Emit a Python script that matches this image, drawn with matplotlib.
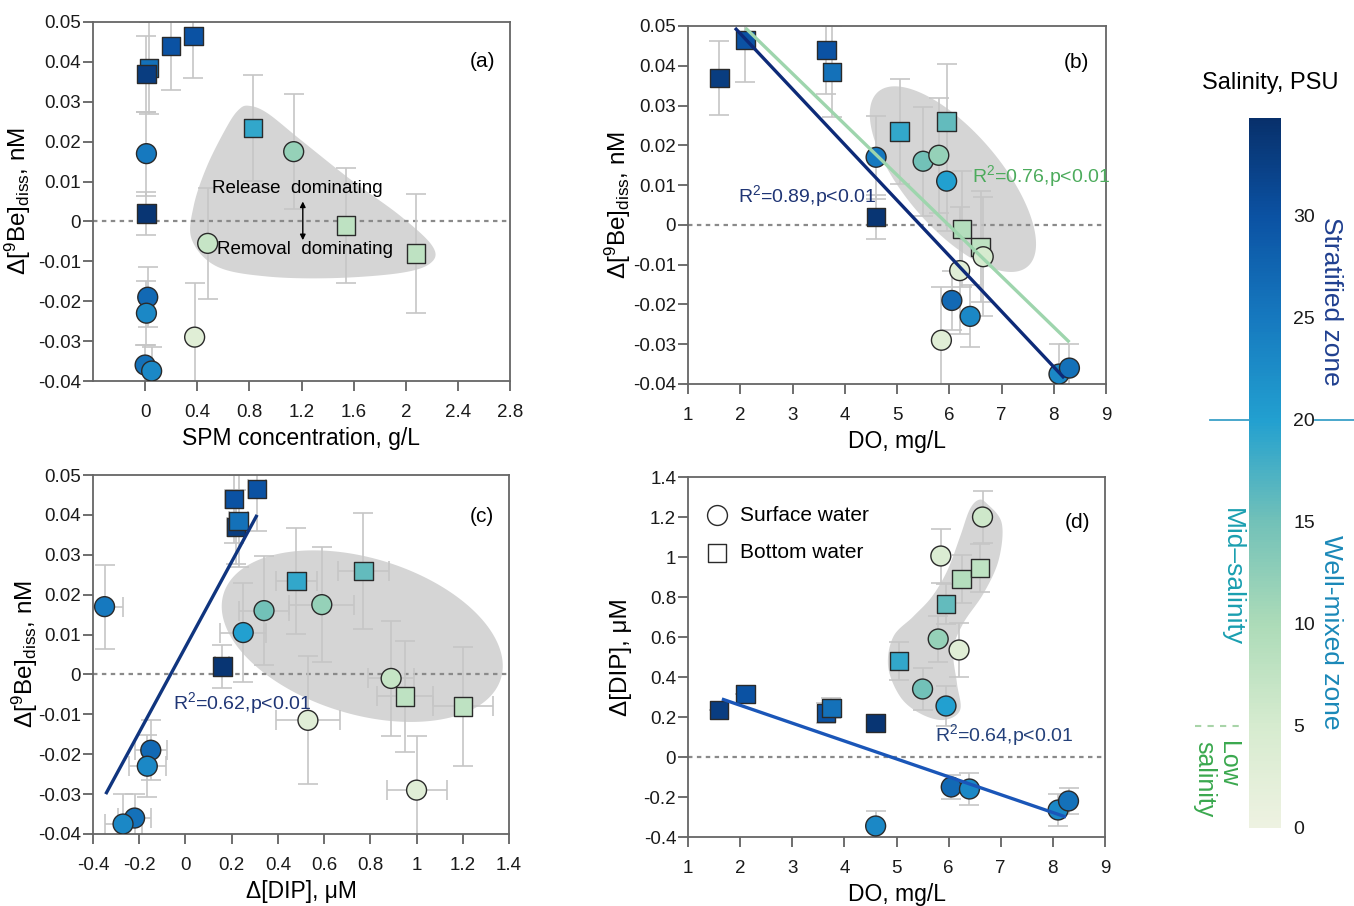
import numpy as np
import matplotlib
matplotlib.use("Agg")
import matplotlib.pyplot as plt
from matplotlib.colors import LinearSegmentedColormap, Normalize
from matplotlib.patches import Polygon
from matplotlib.cm import ScalarMappable
import matplotlib.transforms as mtransforms

plt.rcParams['font.family'] = ['Liberation Sans', 'DejaVu Sans']
plt.rcParams['mathtext.fontset'] = 'custom'
plt.rcParams['mathtext.rm'] = 'Liberation Sans'
plt.rcParams['mathtext.it'] = 'Liberation Sans:italic'
plt.rcParams['axes.unicode_minus'] = False

# ---------------- data ----------------
# panel (a): SPM vs delta Be
a_bot_spm = [0.03, 0.01, 0.20, 0.37, 0.01, 0.83, 1.54, 2.08]
a_bot_be = [0.0385, 0.037, 0.044, 0.0465, 0.002, 0.0235, -0.001, -0.008]
a_bot_err = [0.0115, 0.0095, 0.011, 0.0105, 0.0055, 0.0133, 0.0145, 0.015]
a_bot_sal = [26, 33, 30, 30, 34, 19, 8, 8]
a_sur_spm = [0.01, 1.14, 0.48, 0.38, 0.02, 0.01, 0.0, 0.05]
a_sur_be = [0.017, 0.0175, -0.0055, -0.029, -0.019, -0.023, -0.036, -0.0375]
a_sur_err = [0.0105, 0.0145, 0.014, 0.0135, 0.0075, 0.008, 0.005, 0.006]
a_sur_sal = [25, 12, 7, 3, 27, 23, 26, 23]

# panel (b): DO vs delta Be
b_bot_do = [1.6, 2.1, 3.65, 3.75, 4.6, 5.05, 5.95, 6.25, 6.6]
b_bot_be = [0.037, 0.0465, 0.044, 0.0385, 0.002, 0.0235, 0.026, -0.001, -0.0055]
b_bot_err = [0.0093, 0.0105, 0.011, 0.0115, 0.0055, 0.0133, 0.0145, 0.0145, 0.014]
b_bot_sal = [33, 30, 30, 26, 34, 19, 16, 9, 8]
b_sur_do = [4.6, 5.5, 5.8, 5.95, 6.2, 6.65, 6.05, 6.4, 5.85, 8.1, 8.3]
b_sur_be = [0.017, 0.016, 0.0175, 0.011, -0.0115, -0.008, -0.019, -0.023, -0.029, -0.0375, -0.036]
b_sur_err = [0.0105, 0.0137, 0.0145, 0.0125, 0.016, 0.015, 0.0075, 0.0078, 0.0135, 0.0075, 0.006]
b_sur_sal = [25, 15, 12, 20, 3, 5, 27, 23, 3, 23, 26]
b_fit_all_x = [1.9, 8.2]
b_fit_all_y = [0.0495, -0.0385]
b_fit_mix_x = [2.1, 8.3]
b_fit_mix_y = [0.0495, -0.0295]

# panel (c): delta DIP vs delta Be
c_bot_dip = [0.22, 0.23, 0.21, 0.31, 0.16, 0.48, 0.77, 0.95, 1.2]
c_bot_be = [0.037, 0.0385, 0.044, 0.0465, 0.002, 0.0235, 0.026, -0.0055, -0.008]
c_bot_xerr = [0.04, 0.04, 0.04, 0.04, 0.03, 0.09, 0.11, 0.12, 0.13]
c_bot_yerr = [0.0093, 0.0115, 0.011, 0.0105, 0.0055, 0.0133, 0.0145, 0.014, 0.015]
c_bot_sal = [33, 26, 30, 30, 34, 19, 16, 8, 8]
c_sur_dip = [-0.35, 0.34, 0.25, 0.59, 0.89, 0.53, 1.0, -0.15, -0.165, -0.22, -0.27]
c_sur_be = [0.017, 0.016, 0.0105, 0.0175, -0.001, -0.0115, -0.029, -0.019, -0.023, -0.036, -0.0375]
c_sur_xerr = [0.08, 0.11, 0.1, 0.14, 0.1, 0.14, 0.13, 0.07, 0.08, 0.07, 0.08]
c_sur_yerr = [0.0105, 0.0137, 0.0125, 0.0145, 0.0145, 0.016, 0.0135, 0.0075, 0.0078, 0.006, 0.0075]
c_sur_sal = [25, 15, 20, 12, 7, 3, 3, 27, 23, 26, 23]
c_fit_x = [-0.345, 0.31]
c_fit_y = [-0.030, 0.040]

# panel (d): DO vs delta DIP
d_bot_do = [1.6, 2.1, 3.65, 3.75, 4.6, 5.05, 5.95, 6.25, 6.6]
d_bot_dip = [0.235, 0.315, 0.22, 0.245, 0.17, 0.48, 0.765, 0.89, 0.945]
d_bot_err = [0.0, 0.0, 0.05, 0.05, 0.0, 0.095, 0.1, 0.12, 0.12]
d_bot_sal = [33, 30, 30, 26, 34, 19, 16, 9, 8]
d_sur_do = [4.6, 5.5, 5.8, 5.95, 6.2, 5.85, 6.65, 6.05, 6.4, 8.1, 8.3]
d_sur_dip = [-0.345, 0.34, 0.59, 0.255, 0.535, 1.005, 1.2, -0.15, -0.16, -0.265, -0.22]
d_sur_err = [0.075, 0.105, 0.115, 0.1, 0.135, 0.135, 0.13, 0.06, 0.08, 0.08, 0.065]
d_sur_sal = [23, 15, 12, 20, 3, 4, 6, 27, 23, 23, 26]
d_fit_x = [1.65, 8.25]
d_fit_y = [0.29, -0.30]

# decorative shaded regions (data coordinates)
a_blob_x = [0.795, 0.936, 1.192, 1.577, 1.962, 2.205, 2.192, 1.962, 1.449, 0.936, 0.551, 0.359, 0.372, 0.474, 0.628, 0.718]
a_blob_y = [0.0290, 0.0272, 0.0205, 0.0105, 0.0013, -0.0062, -0.0104, -0.0129, -0.0142, -0.0138, -0.0113, -0.0046, 0.0038, 0.0138, 0.0238, 0.0280]
d_blob_x = [6.57, 6.73, 7.02, 6.96, 6.67, 6.28, 6.09, 6.16, 6.22, 5.90, 5.45, 5.07, 4.84, 4.94, 5.32, 5.68, 5.98, 6.22, 6.40]
d_blob_y = [1.285, 1.268, 1.168, 0.985, 0.818, 0.668, 0.535, 0.368, 0.235, 0.185, 0.218, 0.302, 0.452, 0.602, 0.702, 0.802, 0.935, 1.102, 1.235]

# colour scale
sal_stops = [0, 5, 10, 15, 20, 25, 30, 34.8]
sal_colors = ['#eef2e1', '#d6ebcf', '#acdbb8', '#72c1b8', '#22a0d0', '#1679bf', '#0b52a3', '#08306b']
sal_ticks = [0, 5, 10, 15, 20, 25, 30]

vmax = sal_stops[-1]
cmap = LinearSegmentedColormap.from_list(
    'sal', [(s / vmax, c) for s, c in zip(sal_stops, sal_colors)])
norm = Normalize(0, vmax)

W, H = 1354, 906
fig = plt.figure(figsize=(W / 100, H / 100), dpi=100)


def pos(l, t, r, b):
    return [l / W, 1 - b / H, (r - l) / W, (b - t) / H]


box_a = (93, 22, 510, 381)
box_b = (688, 26, 1106, 384)
box_c = (93, 475, 509, 834)
box_d = (688, 477, 1105, 837)

ax_a = fig.add_axes(pos(*box_a))
ax_b = fig.add_axes(pos(*box_b))
ax_c = fig.add_axes(pos(*box_c))
ax_d = fig.add_axes(pos(*box_d))
cax = fig.add_axes(pos(1249, 118, 1281, 828))

fmt = plt.FuncFormatter(lambda v, p: f'{round(v, 4) + 0.0:g}')


def style(ax, xlim, ylim, xticks, yticks):
    ax.set_xlim(xlim)
    ax.set_ylim(ylim)
    ax.set_xticks(xticks)
    ax.set_yticks(yticks)
    ax.xaxis.set_major_formatter(fmt)
    ax.yaxis.set_major_formatter(fmt)
    ax.tick_params(axis='both', direction='out', length=7.5, width=1.2,
                   color='#555555', labelcolor='#1a1a1a', labelsize=13.5)
    ax.tick_params(axis='x', pad=9)
    ax.tick_params(axis='y', pad=1)
    for sp in ax.spines.values():
        sp.set_color('#666666')
        sp.set_linewidth(1.3)
    ax.axhline(0, color='#8a8a8a', ls=(0, (2, 2)), lw=1.6, zorder=1)


def ellipse(ax, box, cx, cy, a_px, b_px, ang):
    x0, x1 = ax.get_xlim()
    y0, y1 = ax.get_ylim()
    kx = (box[2] - box[0]) / (x1 - x0)
    ky = (box[3] - box[1]) / (y1 - y0)
    t = np.linspace(0, 2 * np.pi, 240)
    th = np.deg2rad(ang)
    u, v = a_px * np.cos(t), b_px * np.sin(t)
    dx = u * np.cos(th) - v * np.sin(th)
    dy = u * np.sin(th) + v * np.cos(th)
    pts = np.column_stack([cx + dx / kx, cy + dy / ky])
    ax.add_patch(Polygon(pts, closed=True, facecolor='#d5d5d5', edgecolor='none', zorder=0.5))


def blob(ax, xs, ys):
    P = np.column_stack([xs, ys]).astype(float)
    n = len(P)
    out = []
    for i in range(n):
        p0, p1, p2, p3 = P[i - 1], P[i], P[(i + 1) % n], P[(i + 2) % n]
        for t in np.linspace(0, 1, 20, endpoint=False):
            t2, t3 = t * t, t * t * t
            pt = 0.5 * ((2 * p1) + (-p0 + p2) * t + (2 * p0 - 5 * p1 + 4 * p2 - p3) * t2
                        + (-p0 + 3 * p1 - 3 * p2 + p3) * t3)
            out.append(pt)
    ax.add_patch(Polygon(np.array(out), closed=True, facecolor='#d5d5d5', edgecolor='none', zorder=0.5))


ekw = dict(fmt='none', ecolor='#c6c6c6', elinewidth=1.2, capsize=7, capthick=1.2, zorder=2)
mkw = dict(cmap=cmap, norm=norm, edgecolors='#2a2a2a', linewidths=1.0, zorder=4)
S_CIRC, S_SQ = 205, 175


def points(ax, bx, by, bsal, sx, sy, ssal):
    ax.scatter(bx, by, c=bsal, marker='s', s=S_SQ, **mkw)
    ax.scatter(sx, sy, c=ssal, marker='o', s=S_CIRC, **mkw)


ylab_be = 'Δ[$^{9}$Be]$_{\\rm diss}$, nM'
XL, YL = 16.5, 17.5

# ---------- (a) ----------
style(ax_a, (-0.4, 2.8), (-0.04, 0.05), np.arange(0, 2.81, 0.4), np.arange(-0.04, 0.051, 0.01))
blob(ax_a, a_blob_x, a_blob_y)
ax_a.errorbar(a_bot_spm, a_bot_be, yerr=a_bot_err, **ekw)
ax_a.errorbar(a_sur_spm, a_sur_be, yerr=a_sur_err, **ekw)
points(ax_a, a_bot_spm, a_bot_be, a_bot_sal, a_sur_spm, a_sur_be, a_sur_sal)
ax_a.text(1.17, 0.0082, 'Release  dominating', fontsize=13.5, ha='center', va='center', zorder=5)
ax_a.text(1.23, -0.0071, 'Removal  dominating', fontsize=13.5, ha='center', va='center', zorder=5)
ax_a.annotate('', xy=(1.21, -0.0047), xytext=(1.21, 0.0050),
              arrowprops=dict(arrowstyle='<|-|>', color='black', lw=1.0,
                              mutation_scale=8, shrinkA=0, shrinkB=0), zorder=5)
ax_a.set_xlabel('SPM concentration, g/L', fontsize=XL)
ax_a.set_ylabel(ylab_be, fontsize=YL)
ax_a.text(0.935, 0.89, '(a)', transform=ax_a.transAxes, fontsize=15, ha='center', va='center')

# ---------- (b) ----------
style(ax_b, (1, 9), (-0.04, 0.05), np.arange(1, 9.1, 1), np.arange(-0.04, 0.051, 0.01))
ellipse(ax_b, box_b, 6.07, 0.0115, 115, 48, -49.5)
ax_b.errorbar(b_bot_do, b_bot_be, yerr=b_bot_err, **ekw)
ax_b.errorbar(b_sur_do, b_sur_be, yerr=b_sur_err, **ekw)
points(ax_b, b_bot_do, b_bot_be, b_bot_sal, b_sur_do, b_sur_be, b_sur_sal)
ax_b.plot(b_fit_mix_x, b_fit_mix_y, color='#9ed5ad', lw=2.4, zorder=5, solid_capstyle='butt')
ax_b.plot(b_fit_all_x, b_fit_all_y, color='#0d2a78', lw=2.4, zorder=5, solid_capstyle='butt')
ax_b.text(1.96, 0.0073, 'R$^{2}$=0.89,p<0.01', color='#1f3575', fontsize=14, ha='left', va='center', zorder=6)
ax_b.text(6.43, 0.0122, 'R$^{2}$=0.76,p<0.01', color='#4cab5c', fontsize=14, ha='left', va='center', zorder=6)
ax_b.set_xlabel('DO, mg/L', fontsize=XL)
ax_b.set_ylabel(ylab_be, fontsize=YL)
ax_b.text(0.93, 0.897, '(b)', transform=ax_b.transAxes, fontsize=15, ha='center', va='center')

# ---------- (c) ----------
style(ax_c, (-0.4, 1.4), (-0.04, 0.05), np.arange(-0.4, 1.41, 0.2), np.arange(-0.04, 0.051, 0.01))
ellipse(ax_c, box_c, 0.765, 0.0096, 145, 78, -17)
ax_c.errorbar(c_bot_dip, c_bot_be, xerr=c_bot_xerr, yerr=c_bot_yerr, **ekw)
ax_c.errorbar(c_sur_dip, c_sur_be, xerr=c_sur_xerr, yerr=c_sur_yerr, **ekw)
points(ax_c, c_bot_dip, c_bot_be, c_bot_sal, c_sur_dip, c_sur_be, c_sur_sal)
ax_c.plot(c_fit_x, c_fit_y, color='#10357f', lw=2.4, zorder=5, solid_capstyle='butt')
ax_c.text(-0.055, -0.0071, 'R$^{2}$=0.62,p<0.01', color='#1f3575', fontsize=14, ha='left', va='center', zorder=6)
ax_c.set_xlabel('Δ[DIP], μM', fontsize=XL)
ax_c.set_ylabel(ylab_be, fontsize=YL)
ax_c.text(0.935, 0.885, '(c)', transform=ax_c.transAxes, fontsize=15, ha='center', va='center')

# ---------- (d) ----------
style(ax_d, (1, 9), (-0.4, 1.4), np.arange(1, 9.1, 1), np.arange(-0.4, 1.41, 0.2))
blob(ax_d, d_blob_x, d_blob_y)
ax_d.errorbar(d_bot_do, d_bot_dip, yerr=d_bot_err, **ekw)
ax_d.errorbar(d_sur_do, d_sur_dip, yerr=d_sur_err, **ekw)
points(ax_d, d_bot_do, d_bot_dip, d_bot_sal, d_sur_do, d_sur_dip, d_sur_sal)
ax_d.plot(d_fit_x, d_fit_y, color='#1a56b8', lw=2.4, zorder=5, solid_capstyle='butt')
ax_d.text(5.74, 0.11, 'R$^{2}$=0.64,p<0.01', color='#23407a', fontsize=14, ha='left', va='center', zorder=6)
ax_d.set_xlabel('DO, mg/L', fontsize=XL)
ax_d.set_ylabel('Δ[DIP], μM', fontsize=YL)
ax_d.text(0.935, 0.875, '(d)', transform=ax_d.transAxes, fontsize=15, ha='center', va='center')
# legend
ax_d.scatter([0.07], [0.894], marker='o', s=S_CIRC, facecolor='white', edgecolor='#2a2a2a',
             linewidths=1.0, transform=ax_d.transAxes, zorder=6)
ax_d.scatter([0.07], [0.789], marker='s', s=S_SQ, facecolor='white', edgecolor='#2a2a2a',
             linewidths=1.0, transform=ax_d.transAxes, zorder=6)
ax_d.text(0.125, 0.894, 'Surface water', transform=ax_d.transAxes, fontsize=15, va='center')
ax_d.text(0.125, 0.789, 'Bottom water', transform=ax_d.transAxes, fontsize=15, va='center')

# axis-label positions
for ax, xx in ((ax_a, -0.144), (ax_b, -0.132), (ax_c, -0.127), (ax_d, -0.134)):
    ax.yaxis.set_label_coords(xx, 0.5)
for ax in (ax_a, ax_b, ax_c, ax_d):
    ax.xaxis.set_label_coords(0.5, -0.128)

# ---------- colour bar ----------
sm = ScalarMappable(norm=norm, cmap=cmap)
cb = fig.colorbar(sm, cax=cax, ticks=sal_ticks)
cb.outline.set_visible(False)
cax.tick_params(length=0, labelsize=14, pad=9, labelcolor='#1a1a1a')
fig.text(1270 / W, 1 - 83 / H, 'Salinity, PSU', fontsize=17, ha='center', va='center')

bt = mtransforms.blended_transform_factory(cax.transAxes, cax.transData)
cax.plot([-1.22, 0.0], [20, 20], color='#3aa0c8', lw=1.3, transform=bt, clip_on=False)
cax.plot([2.06, 3.3], [20, 20], color='#3aa0c8', lw=1.3, transform=bt, clip_on=False)
cax.plot([-1.69, -0.28], [5, 5], color='#a8d4a8', lw=1.5, ls=(0, (3, 3)), transform=bt, clip_on=False)
cax.text(2.55, 25.8, 'Stratified zone', rotation=270, color='#1f3f8f', fontsize=19,
         ha='center', va='center', transform=bt)
cax.text(2.55, 9.6, 'Well-mixed zone', rotation=270, color='#1a88b8', fontsize=19,
         ha='center', va='center', transform=bt)
cax.text(-0.53, 12.3, 'Mid–salinity', rotation=270, color='#1a9fb0', fontsize=19,
         ha='center', va='center', transform=bt)
cax.text(-1.03, 2.4, 'Low\nsalinity', rotation=270, color='#3aa84e', fontsize=18,
         ha='center', va='center', multialignment='left', linespacing=1.0, transform=bt)

fig.savefig('out.png', dpi=100)
